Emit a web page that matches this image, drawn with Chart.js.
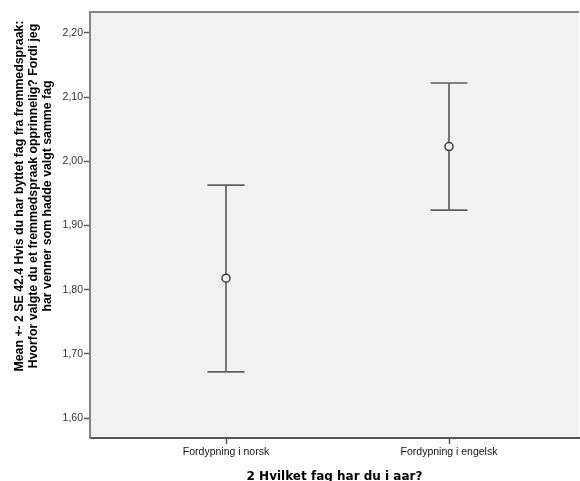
<!DOCTYPE html>
<html>
<head>
<meta charset="utf-8">
<script src="https://cdn.jsdelivr.net/npm/chart.js@4/dist/chart.umd.min.js"></script>
<style>
  html, body { margin: 0; padding: 0; background: #ffffff; }
  #wrap { width: 580px; height: 481px; }
</style>
</head>
<body>
<div id="wrap"><canvas id="chart" width="580" height="481"></canvas></div>
<script>
// Groups on the x axis
const categories = ['Fordypning i norsk', 'Fordypning i engelsk'];
// Group means and the ends of the ±2 SE intervals
const means = [1.818, 2.023];
const lowerBounds = [1.672, 1.924];
const upperBounds = [1.963, 2.122];
// Y axis tick values
const yTicks = [1.6, 1.7, 1.8, 1.9, 2.0, 2.1, 2.2];

const yTitleLines = [
  'Mean +- 2 SE 42.4 Hvis du har byttet fag fra fremmedspraak:',
  'Hvorfor valgte du et fremmedspraak opprinnelig? Fordi jeg',
  'har venner som hadde valgt samme fag'
];
const xTitle = '2 Hvilket fag har du i aar?';

const PLOT_BG = '#f0f1f0';

// Plot background and top frame line
const plotFrame = {
  id: 'plotFrame',
  beforeDraw(chart) {
    const { ctx, chartArea: a } = chart;
    ctx.save();
    ctx.fillStyle = PLOT_BG;
    ctx.fillRect(a.left, a.top, a.right - a.left, a.bottom - a.top);
    ctx.strokeStyle = '#848484';
    ctx.lineWidth = 2;
    ctx.beginPath();
    ctx.moveTo(a.left, a.top);
    ctx.lineTo(a.right, a.top);
    ctx.stroke();
    ctx.restore();
  }
};

// Vertical interval bars with caps, positioned through the chart scales
const errorBars = {
  id: 'errorBars',
  beforeDatasetsDraw(chart) {
    const { ctx, scales: { x, y } } = chart;
    const capHalf = 18.5;
    ctx.save();
    means.forEach((m, i) => {
      const px = x.getPixelForValue(i + 1);
      const yLo = y.getPixelForValue(lowerBounds[i]);
      const yHi = y.getPixelForValue(upperBounds[i]);
      ctx.strokeStyle = '#777777';
      ctx.lineWidth = 2;
      ctx.beginPath();
      ctx.moveTo(px, yHi);
      ctx.lineTo(px, yLo);
      ctx.stroke();
      ctx.strokeStyle = '#5f5f5f';
      ctx.lineWidth = 1.6;
      ctx.beginPath();
      ctx.moveTo(px - capHalf, yHi);
      ctx.lineTo(px + capHalf, yHi);
      ctx.moveTo(px - capHalf, yLo);
      ctx.lineTo(px + capHalf, yLo);
      ctx.stroke();
    });
    ctx.restore();
  }
};

// Multi-line rotated y axis title
const yTitle = {
  id: 'yTitle',
  afterDraw(chart) {
    const { ctx } = chart;
    ctx.save();
    ctx.fillStyle = '#000000';
    ctx.font = 'bold 12.3px "Liberation Sans", Arial, sans-serif';
    ctx.textAlign = 'center';
    ctx.textBaseline = 'middle';
    const cy = 196;
    const xs = [20, 34, 48];
    yTitleLines.forEach((line, i) => {
      ctx.save();
      ctx.translate(xs[i], cy);
      ctx.rotate(-Math.PI / 2);
      ctx.fillText(line, 0, 0);
      ctx.restore();
    });
    ctx.restore();
  }
};

const fmt = v => v.toFixed(2).replace('.', ',');

new Chart(document.getElementById('chart'), {
  type: 'scatter',
  data: {
    datasets: [{
      data: means.map((m, i) => ({ x: i + 1, y: m })),
      pointStyle: 'circle',
      pointRadius: 4,
      pointHoverRadius: 4,
      pointBorderWidth: 1.5,
      pointBorderColor: '#3a3a3a',
      pointBackgroundColor: PLOT_BG,
      showLine: false
    }]
  },
  options: {
    responsive: false,
    animation: false,
    devicePixelRatio: 1,
    layout: { autoPadding: false, padding: { top: 12, right: 1, bottom: 0, left: 0 } },
    plugins: {
      legend: { display: false },
      tooltip: { enabled: false }
    },
    scales: {
      x: {
        type: 'linear',
        min: 0.39,
        max: 2.583,
        afterFit(scale) {
          scale.height = 43;
          scale.paddingLeft = 0;
          scale.paddingRight = 0;
        },
        afterBuildTicks(scale) {
          scale.ticks = categories.map((c, i) => ({ value: i + 1 }));
        },
        ticks: {
          callback: v => categories[v - 1],
          color: '#111111',
          font: { family: '"Liberation Sans", Arial, sans-serif', size: 10.5 },
          padding: 2,
          maxRotation: 0,
          autoSkip: false
        },
        grid: {
          drawOnChartArea: false,
          drawTicks: true,
          tickLength: 6,
          tickWidth: 1.5,
          tickColor: '#555555'
        },
        border: { display: true, color: '#555555', width: 2 },
        title: {
          display: true,
          text: xTitle,
          color: '#000000',
          font: { family: '"DejaVu Sans", Verdana, sans-serif', size: 12, weight: 'bold', lineHeight: 1 },
          padding: { top: 0, bottom: -2 }
        }
      },
      y: {
        type: 'linear',
        min: 1.5689,
        max: 2.2327,
        afterFit(scale) {
          scale.width = 90;
          scale.paddingTop = 0;
          scale.paddingBottom = 0;
        },
        afterBuildTicks(scale) {
          scale.ticks = yTicks.map(v => ({ value: v }));
        },
        ticks: {
          callback: v => fmt(v),
          color: '#333333',
          font: { family: '"Liberation Sans", Arial, sans-serif', size: 10.5 },
          padding: 1
        },
        grid: {
          drawOnChartArea: false,
          drawTicks: true,
          tickLength: 6,
          tickWidth: 1.5,
          tickColor: '#555555'
        },
        border: { display: true, color: '#848484', width: 2 }
      }
    }
  },
  plugins: [plotFrame, errorBars, yTitle]
});
</script>
</body>
</html>
